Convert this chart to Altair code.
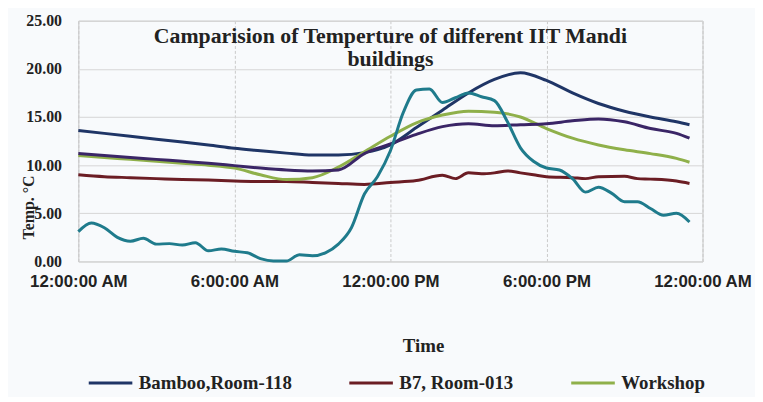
import altair as alt
import pandas as pd

# ---------------- data ----------------
series_names = ["Bamboo,Room-118", "B7, Room-013", "Workshop", "Building 4", "Building 5"]
series_colors = ["#1f3566", "#6b1d24", "#8fb04a", "#3a2566", "#1f7b8c"]
legend_names = ["Bamboo,Room-118", "B7, Room-013", "Workshop"]

hours_hourly = [0, 1, 2, 3, 4, 5, 6, 7, 8, 9, 10, 11, 12, 13, 14, 15, 16, 17, 18, 19, 20, 21, 22, 23, 23.5]

bamboo = [13.6, 13.3, 13.0, 12.7, 12.4, 12.1, 11.75, 11.5, 11.25, 11.05, 11.05, 11.3, 12.1,
          13.9, 15.7, 17.5, 18.9, 19.6, 18.8, 17.5, 16.4, 15.6, 15.0, 14.5, 14.2]

workshop = [11.0, 10.8, 10.6, 10.4, 10.2, 10.0, 9.7, 9.0, 8.5, 8.7, 9.8, 11.4, 13.0,
            14.4, 15.2, 15.6, 15.5, 15.0, 13.8, 12.8, 12.1, 11.6, 11.2, 10.7, 10.3]

building4 = [11.2, 11.0, 10.8, 10.6, 10.4, 10.2, 9.95, 9.7, 9.5, 9.4, 9.5, 11.2, 12.2,
             13.2, 14.0, 14.3, 14.1, 14.2, 14.3, 14.6, 14.8, 14.5, 13.8, 13.3, 12.8]

b7_hours = [0, 1, 2, 3, 4, 5, 6, 7, 8, 9, 10, 11, 12, 13, 14, 14.5, 15, 15.5, 16, 16.5, 17,
            17.5, 18, 19, 19.5, 20, 21, 21.5, 22, 23, 23.5]
b7 = [9.0, 8.8, 8.7, 8.6, 8.5, 8.45, 8.35, 8.3, 8.3, 8.2, 8.1, 8.0, 8.2, 8.4, 8.95, 8.6, 9.2,
      9.1, 9.2, 9.4, 9.2, 9.0, 8.8, 8.7, 8.6, 8.8, 8.85, 8.6, 8.55, 8.35, 8.1]

hours_half = [0, 0.5, 1, 1.5, 2, 2.5, 3, 3.5, 4, 4.5, 5, 5.5, 6, 6.5, 7, 7.5, 8, 8.5, 9, 9.5,
              10, 10.5, 11, 11.5, 12, 12.5, 13, 13.5, 14, 14.5, 15, 15.5, 16, 16.5, 17, 17.5,
              18, 18.5, 19, 19.5, 20, 20.5, 21, 21.5, 22, 22.5, 23, 23.5]
building5 = [3.1, 4.0, 3.5, 2.5, 2.1, 2.4, 1.8, 1.85, 1.7, 1.95, 1.1, 1.3, 1.05, 0.9, 0.3, 0.05,
             0.05, 0.7, 0.6, 0.9, 1.8, 3.5, 7.0, 8.8, 11.5, 15.5, 17.8, 17.9, 16.5, 17.0, 17.5,
             17.1, 16.7, 14.5, 11.8, 10.4, 9.7, 9.5, 8.6, 7.2, 7.7, 7.1, 6.2, 6.2, 5.5, 4.8,
             5.0, 4.1]

x_tick_values = [0, 6, 12, 18, 24]
x_tick_labels = ["12:00:00 AM", "6:00:00 AM", "12:00:00 PM", "6:00:00 PM", "12:00:00 AM"]
y_tick_values = [0, 5, 10, 15, 20, 25]

# ---------------- table ----------------
rows = []
for name, hrs, vals in [
    (series_names[0], hours_hourly, bamboo),
    (series_names[1], b7_hours, b7),
    (series_names[2], hours_hourly, workshop),
    (series_names[3], hours_hourly, building4),
    (series_names[4], hours_half, building5),
]:
    for h, v in zip(hrs, vals):
        rows.append({"hour": h, "temp": v, "series": name})
df = pd.DataFrame(rows)

label_expr = "[" + ",".join("'" + t + "'" for t in x_tick_labels) + "][round(datum.value / 6)]"

serif = "Liberation Serif"
sans = "Liberation Sans"
text_color = "#222222"

chart = alt.Chart(df).mark_line(strokeWidth=3, interpolate="monotone").encode(
    x=alt.X("hour:Q",
            scale=alt.Scale(domain=[0, 24], nice=False),
            axis=alt.Axis(values=x_tick_values, labelExpr=label_expr, title="Time",
                          labelFont=sans, labelFontSize=17, labelFontWeight="bold",
                          labelColor=text_color, labelPadding=12, labelOverlap=False,
                          labelFlush=False, ticks=False, domain=False,
                          grid=True, gridColor="#c9c9c9", gridDash=[3, 2],
                          titleFont=serif, titleFontSize=19, titleFontWeight="bold",
                          titleColor=text_color, titleX=348, titleY=91,
                          titleBaseline="alphabetic")),
    y=alt.Y("temp:Q",
            scale=alt.Scale(domain=[0, 25], nice=False),
            axis=alt.Axis(values=y_tick_values, format=".2f", title="Temp. °C",
                          labelFont=serif, labelFontSize=16, labelFontWeight="bold",
                          labelColor=text_color, labelPadding=17, ticks=False, domain=False,
                          grid=True, gridColor="#d6d6d6",
                          titleFont=serif, titleFontSize=16, titleFontWeight="bold",
                          titleColor=text_color, titleAngle=270, titleX=-42, titleY=188)),
    color=alt.Color("series:N",
                    scale=alt.Scale(domain=series_names, range=series_colors),
                    legend=alt.Legend(values=legend_names, title=None, orient="none",
                                      legendX=9, legendY=342, direction="horizontal",
                                      symbolType="stroke", symbolSize=1936,
                                      symbolStrokeWidth=3, labelOffset=5,
                                      labelFont=serif, labelFontSize=19,
                                      labelFontWeight="bold", labelColor=text_color,
                                      labelLimit=300, columnPadding=51, padding=0)),
    detail="series:N",
    order=alt.Order("hour:Q"),
).properties(
    width=630,
    height=243,
    autosize=alt.AutoSizeParams(type="none"),
    padding={"left": 71, "top": 11, "right": 53, "bottom": 135},
    title=alt.TitleParams(
        text=["Camparision of Temperture of different IIT Mandi", "buildings"],
        font=serif, fontSize=22, fontWeight="bold", color=text_color,
        anchor="middle", frame="group", baseline="alphabetic", lineHeight=23,
        offset=-76,
    ),
).configure(
    background="#f8fafc",
).configure_view(
    stroke="#c4c4c4", strokeWidth=1, fill="#f8fafc",
)

chart.save("out.html", embed_options={"renderer": "svg", "actions": False})
